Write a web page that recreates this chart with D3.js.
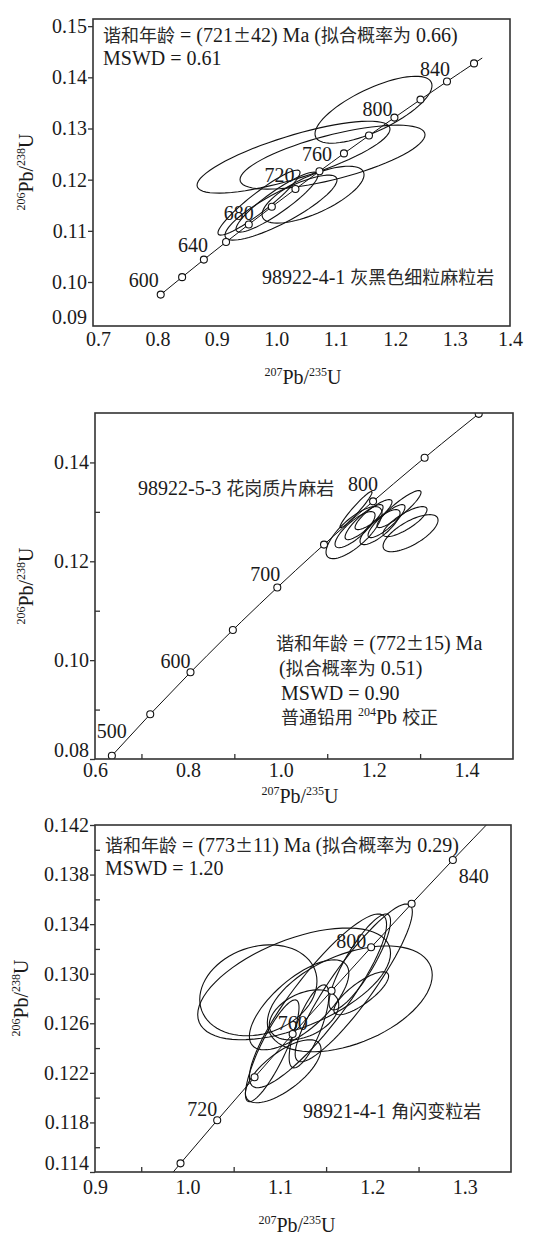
<!DOCTYPE html>
<html>
<head>
<meta charset="utf-8">
<script src="https://cdn.jsdelivr.net/npm/d3@7/dist/d3.min.js"></script>
<style>
  body { margin: 0; background: #fff; }
  svg text { font-family: "Liberation Serif", "Times New Roman", serif; fill: #1a1a1a; white-space: pre; }
  .frame { fill: none; stroke: #333; stroke-width: 1.6; }
  .ellipse { fill: none; stroke: #111; stroke-width: 1.1; }
  .concordia { fill: none; stroke: #111; stroke-width: 1; }
  .marker { fill: #fff; stroke: #111; stroke-width: 1.1; }
  .axis path { display: none; }
  .axis line { stroke: #333; stroke-width: 1.3; }
</style>
</head>
<body>
<script>

// concordia reference points: age (Ma), 207Pb/235U, 206Pb/238U
const concAge = [500, 550, 600, 620, 640, 650, 660, 680, 700, 720, 740, 750, 760, 780, 800, 820, 840, 850, 860, 866, 880, 900];
const concX   = [0.6363, 0.7189, 0.8056, 0.8416, 0.8782, 0.8968, 0.9155, 0.9537, 0.9925, 1.0322, 1.0726, 1.0931,
                 1.1138, 1.1559, 1.1987, 1.2425, 1.2871, 1.3097, 1.3326, 1.3464, 1.3790, 1.4262];
const concY   = [0.08065, 0.08906, 0.09754, 0.10095, 0.10438, 0.10609, 0.10781, 0.11125, 0.11470, 0.11817, 0.12164, 0.12338,
                 0.12513, 0.12862, 0.13213, 0.13565, 0.13918, 0.14094, 0.14272, 0.14378, 0.14627, 0.14983];

// error ellipses: [207/235 centre, 206/238 centre, half x-extent, half y-extent, rho]

// panel 1 : 98922-4-1
const p1Marks  = [600, 620, 640, 660, 680, 700, 720, 740, 760, 780, 800, 820, 840, 860];
const p1Labels = [600, 640, 680, 720, 760, 800, 840];
const p1Ellipses = [
    [1.1635, 0.13367, 0.0984, 0.00654, 0.72],
    [1.0290, 0.12440, 0.1623, 0.00703, 0.78],
    [1.0946, 0.12440, 0.1556, 0.00625, 0.70],
    [1.0618, 0.11707, 0.0858, 0.00556, 0.70],
    [1.0079, 0.11454, 0.0942, 0.00635, 0.85],
    [0.9709, 0.11551, 0.0690, 0.00635, 0.93],
    [1.0012, 0.11561, 0.0690, 0.00586, 0.90]
];
const p1XTicks = [0.7, 0.8, 0.9, 1.0, 1.1, 1.2, 1.3, 1.4];
const p1YTicks = [0.09, 0.10, 0.11, 0.12, 0.13, 0.14, 0.15];

// panel 2 : 98922-5-3
const p2Marks  = [500, 550, 600, 650, 700, 750, 800, 850, 900];
const p2Labels = [500, 600, 700, 800];
const p2Ellipses = [
    [1.1620, 0.13046, 0.0345, 0.00365, 0.96],
    [1.1577, 0.12580, 0.0603, 0.00527, 0.75],
    [1.1599, 0.12640, 0.0431, 0.00365, 0.80],
    [1.1793, 0.12792, 0.0409, 0.00355, 0.85],
    [1.1997, 0.12944, 0.0398, 0.00304, 0.85],
    [1.2546, 0.13056, 0.0474, 0.00375, 0.90],
    [1.2675, 0.12802, 0.0474, 0.00304, 0.80],
    [1.2794, 0.12569, 0.0592, 0.00375, 0.70],
    [1.2137, 0.12691, 0.0431, 0.00355, 0.80],
    [1.2277, 0.12812, 0.0398, 0.00334, 0.85]
];
const p2XTicks = [0.6, 0.8, 1.0, 1.2, 1.4];
const p2XMinor = [0.7, 0.9, 1.1, 1.3];
const p2YTicks = [0.08, 0.10, 0.12, 0.14];
const p2YMinor = [0.09, 0.11, 0.13];

// panel 3 : 98921-4-1
const p3Marks  = [700, 720, 740, 760, 780, 800, 820, 840];
const p3Labels = [720, 760, 800, 840];
const p3Ellipses = [
    [1.1154, 0.12918, 0.1043, 0.00451, 0.55],
    [1.0767, 0.12866, 0.0634, 0.00367, 0.20],
    [1.1756, 0.12797, 0.0892, 0.00427, 0.45],
    [1.1799, 0.12926, 0.0634, 0.00637, 0.90],
    [1.1412, 0.12781, 0.0742, 0.00701, 0.88],
    [1.1880, 0.12842, 0.0296, 0.00173, 0.80],
    [1.1315, 0.12575, 0.0215, 0.00335, 0.75],
    [1.0917, 0.12378, 0.0290, 0.00411, 0.85],
    [1.1036, 0.12213, 0.0409, 0.00254, 0.70],
    [1.1261, 0.12668, 0.0376, 0.00202, 0.40],
    [1.1864, 0.13095, 0.0333, 0.00387, 0.85],
    [1.1208, 0.12749, 0.0538, 0.00363, 0.70]
];
const p3XTicks = [0.9, 1.0, 1.1, 1.2, 1.3];
const p3XMinor = [0.95, 1.05, 1.15, 1.25];
const p3YTicks = [0.114, 0.118, 0.122, 0.126, 0.130, 0.134, 0.138, 0.142];
const p3YMinor = [0.116, 0.120, 0.124, 0.128, 0.132, 0.136, 0.140];


const svg = d3.select("body").append("svg")
    .attr("width", 537)
    .attr("height", 1235);

const concordia = concAge.map(function(a, i) { return {age: a, x: concX[i], y: concY[i]}; });
const concByAge = new Map(concordia.map(function(d) { return [d.age, d]; }));

// writes a string into a <text>, "^{..}" becomes superscript, CJK runs get the CJK font
function richText(sel, str, size) {
    let raised = false;
    str.split(/(\^\{[^}]*\})/).forEach(function(part) {
        if(!part) return;
        const sup = part.startsWith("^{");
        const body = sup ? part.slice(2, -1) : part;
        body.split(/([\u3400-\u9fff\u00b1]+)/).forEach(function(run) {
            if(!run) return;
            const cjk = /[\u3400-\u9fff\u00b1]/.test(run);
            const t = sel.append("tspan").text(run);
            if(cjk) t.style("font-family", '"Noto Sans CJK SC", sans-serif').style("fill", "#2a2a2a");
            t.attr("font-size", sup ? size * 0.6 : (cjk ? size * 0.9 : size));
            if(sup && !raised)      { t.attr("dy", -size * 0.42); raised = true; }
            else if(!sup && raised) { t.attr("dy",  size * 0.42); raised = false; }
        });
    });
    return sel;
}

function ConcordiaPanel(opts) {

    function getOpt(k, defaultVal) {
        if(opts[k] !== undefined)
            return opts[k];
        return defaultVal;
    }

    const box      = opts.box;
    const fontSize = getOpt("fontSize", 20);
    const nudge    = getOpt("labelNudge", {});

    const x = d3.scaleLinear().domain(opts.xDomain).range([box.left, box.right]);
    const y = d3.scaleLinear().domain(opts.yDomain).range([box.bottom, box.top]);
    // axis copies are clamped so edge labels sit on the frame
    const xa = x.copy().clamp(true);
    const ya = y.copy().clamp(true);

    const g = svg.append("g");
    const clipId = "clip" + opts.id;

    g.append("clipPath").attr("id", clipId)
      .append("rect")
        .attr("x", box.left).attr("y", box.top)
        .attr("width", box.right - box.left)
        .attr("height", box.bottom - box.top);

    // axes
    const xAxis = g.append("g").attr("class", "axis")
        .attr("transform", "translate(0," + box.bottom + ")")
        .call(d3.axisBottom(xa).tickValues(opts.xTicks).tickFormat(d3.format(".1f"))
              .tickSize(getOpt("xTickSize", 0)).tickPadding(getOpt("xPad", 6)));
    xAxis.attr("font-size", fontSize).attr("font-family", null);

    const yAxis = g.append("g").attr("class", "axis")
        .attr("transform", "translate(" + box.left + ",0)")
        .call(d3.axisLeft(ya).tickValues(opts.yTicks).tickFormat(d3.format(opts.yFormat))
              .tickSize(5).tickPadding(1));
    yAxis.attr("font-size", fontSize).attr("font-family", null);
    yAxis.selectAll(".tick").filter(function(d) { return d < opts.yDomain[0] || d > opts.yDomain[1]; })
        .select("line").remove();
    // the lowest label sits a little above the corner, as in the original
    const yLow = d3.min(opts.yTicks);
    yAxis.selectAll(".tick text").filter(function(d) { return d === yLow; })
        .attr("dy", "-0.12em");

    if(opts.xMinor)
        g.append("g").attr("class", "axis")
            .attr("transform", "translate(0," + box.bottom + ")")
            .call(d3.axisBottom(x).tickValues(opts.xMinor).tickFormat("").tickSize(-5));
    if(opts.yMinor)
        g.append("g").attr("class", "axis")
            .attr("transform", "translate(" + box.left + ",0)")
            .call(d3.axisLeft(y).tickValues(opts.yMinor).tickFormat("").tickSize(-5));

    const plot = g.append("g").attr("clip-path", "url(#" + clipId + ")");

    // error ellipses
    const theta = d3.range(0, 73).map(function(k) { return k * 2 * Math.PI / 72; });
    const ell = d3.line().curve(d3.curveLinearClosed);
    plot.selectAll("path.ellipse")
        .data(opts.ellipses)
      .enter().append("path")
        .attr("class", "ellipse")
        .attr("d", function(e) {
            const s = Math.sqrt(1 - e[4] * e[4]);
            return ell(theta.map(function(t) {
                return [x(e[0] + e[2] * Math.cos(t)),
                        y(e[1] + e[3] * (e[4] * Math.cos(t) + s * Math.sin(t)))];
            }));
        });

    // concordia curve
    const lineData = concordia.filter(function(d) { return d.age >= opts.lineFrom && d.age <= opts.lineTo; });
    plot.append("path")
        .datum(lineData)
        .attr("class", "concordia")
        .attr("d", d3.line().x(function(d) { return x(d.x); }).y(function(d) { return y(d.y); }));

    plot.selectAll("circle")
        .data(opts.marks.map(function(a) { return concByAge.get(a); }))
      .enter().append("circle")
        .attr("class", "marker")
        .attr("cx", function(d) { return x(d.x); })
        .attr("cy", function(d) { return y(d.y); })
        .attr("r", 3.5);

    // age labels
    g.selectAll("text.age")
        .data(opts.labels.map(function(a) { return concByAge.get(a); }))
      .enter().append("text")
        .attr("class", "age")
        .attr("font-size", fontSize)
        .attr("x", function(d) { return x(d.x) + (nudge[d.age] || [0, -6])[0]; })
        .attr("y", function(d) { return y(d.y) + (nudge[d.age] || [0, -6])[1]; })
        .attr("text-anchor", function(d) { return (nudge[d.age] || [0, 0, "end"])[2] || "end"; })
        .text(function(d) { return d.age; });

    // frame
    g.append("rect").attr("class", "frame")
        .attr("x", box.left).attr("y", box.top)
        .attr("width", box.right - box.left)
        .attr("height", box.bottom - box.top);

    // notes
    opts.notes.forEach(function(n) {
        richText(g.append("text").attr("x", n[1]).attr("y", n[2]), n[0], fontSize);
    });

    richText(g.append("text")
        .attr("x", opts.xLabelAt[0]).attr("y", opts.xLabelAt[1])
        .attr("text-anchor", "middle"), "^{207}Pb/^{235}U", fontSize);

    richText(g.append("text")
        .attr("transform", "translate(" + opts.yLabelAt[0] + "," + opts.yLabelAt[1] + ") rotate(-90)")
        .attr("text-anchor", "middle"), "^{206}Pb/^{238}U", fontSize);
}


ConcordiaPanel({
    id: 1,
    box: {left: 93, right: 510, top: 19, bottom: 326},
    xDomain: [0.6917, 1.3931],
    yDomain: [0.0914, 0.1514],
    xTicks: p1XTicks, yTicks: p1YTicks, yFormat: ".2f",
    ellipses: p1Ellipses,
    marks: p1Marks, labels: p1Labels,
    lineFrom: 600, lineTo: 866,
    labelNudge: {600: [-2, -8], 640: [4, -8], 680: [5, -4], 720: [-1, -7],
                 760: [-12, 8], 800: [-2, -2], 840: [3, -6]},
    notes: [["谐和年龄 = (721±42) Ma (拟合概率为 0.66)", 103, 42],
            ["MSWD = 0.61", 103, 65],
            ["98922-4-1 灰黑色细粒麻粒岩", 262, 284]],
    xLabelAt: [303, 384],
    yLabelAt: [33, 172]
});

ConcordiaPanel({
    id: 2,
    box: {left: 95, right: 513, top: 413, bottom: 759},
    xDomain: [0.6, 1.5],
    yDomain: [0.08, 0.15],
    xTicks: p2XTicks, xMinor: p2XMinor,
    yTicks: p2YTicks, yMinor: p2YMinor, yFormat: ".2f",
    xPad: 4,
    ellipses: p2Ellipses,
    marks: p2Marks, labels: p2Labels,
    lineFrom: 500, lineTo: 900,
    labelNudge: {500: [0, -18, "middle"], 600: [0, -4], 700: [3, -6], 800: [5, -10]},
    notes: [["98922-5-3 花岗质片麻岩", 138, 495],
            ["谐和年龄 = (772±15) Ma", 276, 650],
            ["(拟合概率为 0.51)", 279, 675],
            ["MSWD = 0.90", 281, 700],
            ["普通铅用 ^{204}Pb 校正", 281, 724]],
    xLabelAt: [300, 803],
    yLabelAt: [33, 586]
});

ConcordiaPanel({
    id: 3,
    box: {left: 95, right: 511, top: 825, bottom: 1172},
    xDomain: [0.9, 1.35],
    yDomain: [0.114, 0.142],
    xTicks: p3XTicks, xMinor: p3XMinor,
    yTicks: p3YTicks, yMinor: p3YMinor, yFormat: ".3f",
    xPad: 8,
    ellipses: p3Ellipses,
    marks: p3Marks, labels: p3Labels,
    lineFrom: 680, lineTo: 880,
    labelNudge: {720: [0, -4], 760: [15, -4], 800: [-5, 1], 840: [6, 23, "start"]},
    notes: [["谐和年龄 = (773±11) Ma (拟合概率为 0.29)", 105, 852],
            ["MSWD = 1.20", 105, 875],
            ["98921-4-1 角闪变粒岩", 303, 1118]],
    xLabelAt: [297, 1232],
    yLabelAt: [28, 998]
});

</script>
</body>
</html>
